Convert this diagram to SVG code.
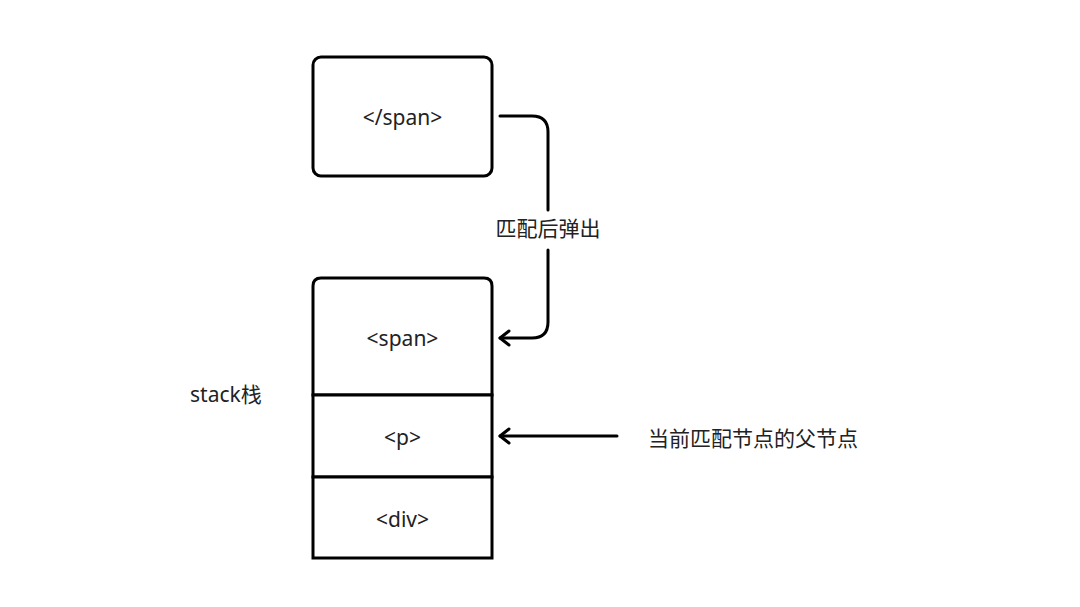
<svg xmlns="http://www.w3.org/2000/svg" width="1080" height="607" viewBox="0 0 1080 607">
<style>
.box{fill:#fff;stroke:#000;stroke-width:3}
.t{font-family:"Noto Sans","Noto Sans CJK SC",sans-serif;font-size:21px;fill:#222}
.c{text-anchor:middle}
.ln{fill:none;stroke:#000;stroke-width:3;stroke-linecap:round;stroke-linejoin:round}
</style>
<defs>
<marker id="ah" viewBox="0 0 20 20" refX="18" refY="10" markerWidth="20" markerHeight="20" markerUnits="userSpaceOnUse" orient="auto">
<path d="M9,3 L18,10 L9,17" fill="none" stroke="#000" stroke-width="3" stroke-linecap="round" stroke-linejoin="round"/>
</marker>
</defs>
<rect width="1080" height="607" fill="#fff"/>
<g id="close-span">
<rect class="box" x="313" y="57" width="179" height="119" rx="8"/>
<text class="t c" x="402.5" y="125">&lt;/span&gt;</text>
</g>
<g id="span">
<path class="box" d="M313,395 V286 Q313,278 321,278 H484 Q492,278 492,286 V395 Z"/>
<text class="t c" x="402.5" y="346">&lt;span&gt;</text>
</g>
<g id="p">
<rect class="box" x="313" y="395" width="179" height="82"/>
<text class="t c" x="402.5" y="445">&lt;p&gt;</text>
</g>
<g id="div">
<rect class="box" x="313" y="477" width="179" height="81"/>
<text class="t c" x="402.5" y="527">&lt;div&gt;</text>
</g>
<g id="stack-label">
<text class="t" x="190" y="402">stack栈</text>
</g>
<g id="parent-label">
<text class="t" x="648" y="446">当前匹配节点的父节点</text>
</g>
<g id="connectors">
<path class="ln" d="M500,116 H532 Q548,116 548,132 V210"/>
<path class="ln" d="M548,250 V322 Q548,338 532,338 H500" marker-end="url(#ah)"/>
<text class="t c" x="548" y="236">匹配后弹出</text>
<path class="ln" d="M617,436 H500" marker-end="url(#ah)"/>
</g>
</svg>
